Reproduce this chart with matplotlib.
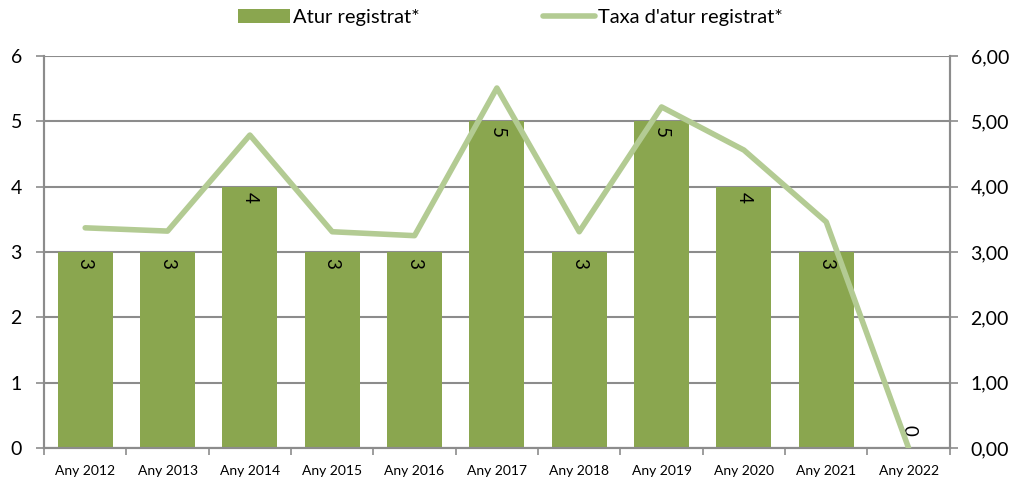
import matplotlib
matplotlib.use("Agg")
import matplotlib.pyplot as plt
from matplotlib.ticker import FixedLocator, FuncFormatter

plt.rcParams['font.family'] = ['Lato', 'DejaVu Sans']

years = ['Any 2012', 'Any 2013', 'Any 2014', 'Any 2015', 'Any 2016', 'Any 2017',
         'Any 2018', 'Any 2019', 'Any 2020', 'Any 2021', 'Any 2022']
atur = [3, 3, 4, 3, 3, 5, 3, 5, 4, 3, 0]
taxa = [3.37, 3.32, 4.79, 3.31, 3.25, 5.51, 3.31, 5.22, 4.56, 3.46, 0.0]

bar_color = '#8aa64f'
line_color = '#b3cb93'
grid_color = '#8c8c8c'

fig = plt.figure(figsize=(10.12, 4.79), dpi=100)
ax = fig.add_axes([0.0435, 0.0647, 0.895, 0.8184])
ax2 = ax.twinx()

x = list(range(len(years)))
bars = ax.bar(x, atur, width=0.67, color=bar_color, zorder=2, label='Atur registrat*')
ln, = ax2.plot(x, taxa, color=line_color, lw=4, solid_capstyle='round',
               label="Taxa d'atur registrat*", zorder=3)

for xi, v in zip(x, atur):
    if v > 0:
        ax.text(xi, v - 0.17, str(v), rotation=-90, ha='center', va='center',
                fontsize=13.5, zorder=4)
    else:
        ax.text(xi, v + 0.27, str(v), rotation=-90, ha='center', va='center',
                fontsize=13.5, zorder=4)

ax.set_xlim(-0.5, len(years) - 0.5)
ax.set_ylim(0, 6)
ax2.set_ylim(0, 6)
ax.set_yticks(range(7))
ax2.set_yticks(range(7))
ax2.yaxis.set_major_formatter(FuncFormatter(lambda v, p: f'{v:.2f}'.replace('.', ',')))

ax.set_xticks(x)
ax.set_xticklabels(years, fontsize=10)
ax.xaxis.set_minor_locator(FixedLocator([i - 0.5 for i in range(len(years) + 1)]))
ax.tick_params(axis='x', which='major', length=0, pad=12)
ax.tick_params(axis='x', which='minor', length=5, color=grid_color, width=1.2)
ax.tick_params(axis='y', length=6, color=grid_color, width=1.2, labelsize=14, pad=10)
ax2.tick_params(axis='y', length=6, color=grid_color, width=1.2, labelsize=14, pad=9)

ax.grid(axis='y', color=grid_color, lw=1.5, zorder=1)
ax.set_axisbelow(True)
for a in (ax, ax2):
    a.spines['top'].set_visible(False)
    for s in ('left', 'right', 'bottom'):
        a.spines[s].set_color(grid_color)
        a.spines[s].set_linewidth(1.5)

fig.legend([bars, ln], ['Atur registrat*', "Taxa d'atur registrat*"],
           loc='upper left', bbox_to_anchor=(0.217, 1.02), ncol=2, frameon=False,
           fontsize=14.5, handlelength=2.6, handletextpad=0.15, columnspacing=6.1)

fig.savefig('out.png', dpi=100)
